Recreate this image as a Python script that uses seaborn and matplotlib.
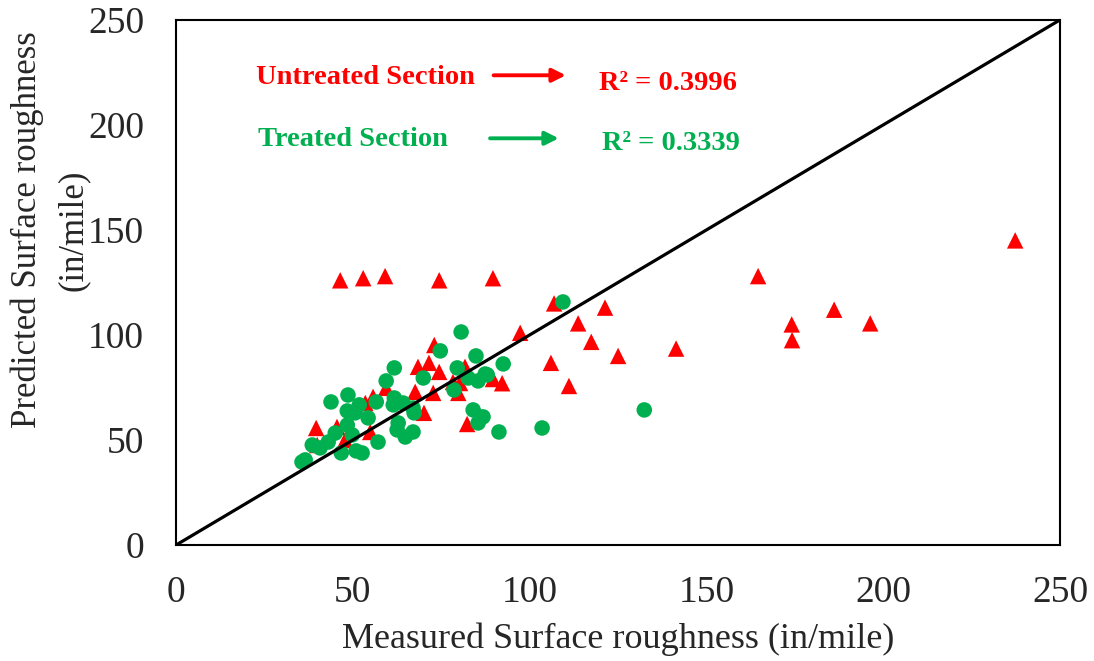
import pandas as pd
import matplotlib.pyplot as plt
import seaborn as sns
import numpy as np

# Measured vs predicted surface roughness (in/mile)
untreated_measured = [46.4, 52.9, 59.1, 74.4, 89.6, 237.3, 164.6, 174.1, 174.2, 186.1, 196.3,
                      106.9, 121.3, 113.7, 117.4, 125.0, 141.4, 97.3, 106.0, 111.1, 89.6, 92.2,
                      73.0, 71.5, 68.4, 74.4, 81.7, 78.3, 80.3, 79.8, 72.7, 67.6, 59.4, 55.7,
                      53.5, 70.1, 82.3, 39.6, 45.5, 54.9, 39.9, 47.8]
untreated_predicted = [126.0, 127.0, 128.0, 126.0, 127.0, 145.0, 128.0, 105.0, 97.5, 112.0, 105.5,
                       115.0, 113.0, 105.5, 96.7, 90.0, 93.5, 101.0, 86.7, 75.7, 79.0, 77.0,
                       95.2, 86.7, 84.8, 82.4, 84.8, 77.6, 77.1, 72.4, 72.4, 72.9, 74.8, 70.5,
                       67.6, 62.9, 57.6, 55.7, 56.2, 53.8, 47.6, 50.0]

treated_measured = [109.4, 132.4, 92.5, 87.4, 103.5, 80.6, 74.7, 84.8, 61.7, 79.5, 69.9, 59.4,
                    82.6, 85.4, 88.0, 78.6, 43.8, 48.6, 51.8, 56.6, 61.7, 61.4, 64.2, 67.0,
                    67.3, 48.4, 50.6, 54.3, 62.8, 84.0, 86.8, 85.4, 91.3, 45.0, 48.4, 49.8,
                    62.5, 67.0, 64.8, 57.1, 38.5, 40.7, 43.0, 46.7, 50.9, 52.6, 36.5, 35.6]
treated_predicted = [115.7, 64.3, 86.2, 81.4, 55.7, 101.4, 92.4, 90.0, 84.3, 84.3, 79.5, 78.1,
                     79.5, 78.1, 81.0, 73.8, 68.1, 71.4, 66.7, 68.1, 70.0, 66.7, 67.6, 65.2,
                     62.9, 63.8, 62.9, 60.5, 58.1, 64.3, 61.0, 58.1, 53.8, 53.3, 57.1, 52.4,
                     54.8, 53.8, 51.4, 49.0, 47.6, 46.2, 49.0, 43.8, 44.8, 43.8, 40.5, 39.5]

line_of_equality = [0, 250]

untreated = pd.DataFrame({'Measured': untreated_measured, 'Predicted': untreated_predicted})
treated = pd.DataFrame({'Measured': treated_measured, 'Predicted': treated_predicted})

sns.set_style('white')
plt.rcParams['font.family'] = ['Liberation Serif', 'DejaVu Serif']

fig = plt.figure(figsize=(10.94, 6.61), dpi=100)
ax = fig.add_axes([0.161, 0.1755, 0.808, 0.7945])

sns.scatterplot(data=untreated, x='Measured', y='Predicted', marker='^', s=140,
                color='#FF0000', edgecolor='none', ax=ax, zorder=2)
sns.scatterplot(data=treated, x='Measured', y='Predicted', marker='o', s=125,
                color='#00B050', edgecolor='none', ax=ax, zorder=3)
ax.plot(line_of_equality, line_of_equality, color='black', lw=2.3, zorder=4)

ax.set_xlim(0, 250)
ax.set_ylim(0, 250)
ax.set_xticks([0, 50, 100, 150, 200, 250])
ax.set_yticks([0, 50, 100, 150, 200, 250])
ax.tick_params(labelsize=27, length=0)
ax.tick_params(axis='x', pad=22)
ax.tick_params(axis='y', pad=23)
ax.set_xlabel('Measured Surface roughness (in/mile)', fontsize=26, labelpad=9)
ax.set_ylabel('Predicted Surface roughness\n(in/mile)', fontsize=25, labelpad=-1, linespacing=1.5)
ax.yaxis.label.set_y(0.6)
for sp in ax.spines.values():
    sp.set_color('black')
    sp.set_linewidth(1.5)

# Annotations
ax.text(22.6, 222.5, 'Untreated Section', color='#FF0000', fontsize=20.5, fontweight='bold',
        va='center', ha='left')
ax.annotate('', xy=(111, 223.6), xytext=(89, 223.6),
            arrowprops=dict(arrowstyle='-|>', color='#FF0000', lw=2.8, mutation_scale=20))
ax.text(119.5, 219.8, 'R² = 0.3996', color='#FF0000', fontsize=20.5, fontweight='bold',
        va='center', ha='left')

ax.text(23.2, 193, 'Treated Section', color='#00B050', fontsize=20.5, fontweight='bold',
        va='center', ha='left')
ax.annotate('', xy=(109, 193.6), xytext=(88, 193.6),
            arrowprops=dict(arrowstyle='-|>', color='#00B050', lw=2.8, mutation_scale=20))
ax.text(120.5, 191.2, 'R² = 0.3339', color='#00B050', fontsize=20.5, fontweight='bold',
        va='center', ha='left')

fig.savefig('out.png', dpi=100)
